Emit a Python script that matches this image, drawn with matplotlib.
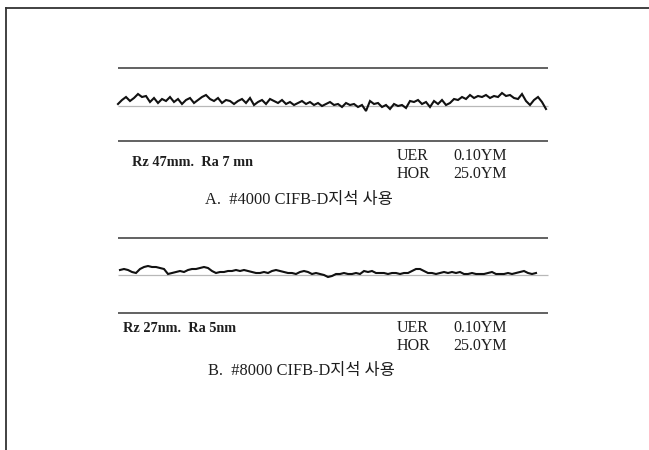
import numpy as np
import matplotlib
matplotlib.use("Agg")
import matplotlib.pyplot as plt
from matplotlib.lines import Line2D

# ---- data: surface profile heights (nm above mean line), equal sampling step ----
profile_a_nm = [6, 18, 27, 15, 24, 36, 27, 30, 12, 24,
                9, 21, 15, 27, 12, 21, 6, 18, 24, 9,
                18, 27, 33, 21, 15, 24, 9, 18, 15, 6,
                15, 21, 9, 24, 3, 12, 18, 6, 21, 15,
                9, 18, 6, 12, 3, 9, 15, 6, 12, 3,
                9, 0, 6, 12, 3, 6, -3, 9, 3, 6,
                -3, 3, -15, 15, 6, 9, -3, 3, -9, 6,
                0, 3, -6, 15, 12, 18, 6, 12, -3, 15,
                6, 18, 3, 9, 21, 18, 27, 21, 33, 24,
                30, 27, 33, 24, 30, 27, 39, 30, 33, 24,
                21, 36, 15, 3, 18, 27, 12, -9]

profile_b_nm = [15, 18, 15, 9, 6, 18, 24, 27, 24, 24,
                21, 18, 3, 6, 9, 12, 9, 15, 18, 18,
                21, 24, 21, 12, 6, 9, 9, 12, 12, 15,
                12, 15, 12, 9, 6, 6, 9, 6, 12, 15,
                12, 9, 6, 6, 3, 9, 12, 9, 3, 6,
                3, 0, -6, -3, 3, 3, 6, 3, 3, 6,
                3, 12, 9, 12, 6, 6, 6, 3, 6, 6,
                3, 6, 6, 12, 18, 18, 12, 6, 6, 3,
                6, 9, 6, 9, 6, 9, 3, 3, 6, 3,
                3, 3, 6, 9, 3, 3, 3, 6, 3, 6,
                9, 12, 6, 3, 6]

# reference (chart border) levels in nm for each trace
ref_a = (114, -105)
ref_b = (111, -114)

roughness_a = "Rz 47mm.  Ra 7 mn"
roughness_b = "Rz 27nm.  Ra 5nm"
caption_a = "A.  #4000 CIFB-D지석 사용"
caption_b = "B.  #8000 CIFB-D지석 사용"
scale_labels = ["UER", "HOR"]
scale_values = ["0.10YM", "25.0YM"]

W, H = 649, 450
fig = plt.figure(figsize=(W / 100, H / 100), dpi=100)
fig.patch.set_facecolor("white")

def fx(px):
    return px / W

def fy(py):
    return 1 - py / H

# outer frame (top and left edges)
fig.add_artist(Line2D([fx(6), fx(6)], [fy(8), fy(452)], color="#333333", lw=1.3))
fig.add_artist(Line2D([fx(6), fx(652)], [fy(8), fy(8)], color="#333333", lw=1.3))

def panel(y_top_px, y_bot_px, mean_px, x0_px, data, refs, ref_x):
    # axes spans pixels 110..556 horizontally; step 4 px per sample
    ax = fig.add_axes([fx(110), fy(y_bot_px), fx(556) - fx(110), fy(y_top_px) - fy(y_bot_px)])
    ax.set_xlim((110 - x0_px) / 4, (556 - x0_px) / 4)
    ax.set_ylim((mean_px - y_bot_px) * 3, (mean_px - y_top_px) * 3)
    ax.axis("off")
    xi = np.arange(len(data))
    # reference lines
    for r in refs:
        ax.hlines(r, ref_x[0], ref_x[1], color="#555555", lw=1.3, clip_on=False)
    ax.hlines(0, ref_x[0], ref_x[1], color="#b8b8b8", lw=0.9)
    ax.plot(xi, data, color="#111111", lw=1.5, solid_joinstyle="miter")
    return ax

panel(60, 150, 106, 118, profile_a_nm, ref_a, ((118 - 118) / 4, (548 - 118) / 4))
panel(230, 320, 275, 120, profile_b_nm, ref_b, ((118 - 120) / 4, (548 - 120) / 4))

serif = ["Liberation Serif", "Noto Sans CJK KR"]
tc = "#1e1e1e"

def txt(xp, yp, s, size, weight="normal"):
    fig.text(fx(xp), fy(yp), s, fontsize=size, family=serif, color=tc,
             ha="left", va="center", fontweight=weight)

# panel A texts
txt(132, 163, roughness_a, 10.3, "bold")
txt(397, 156.5, scale_labels[0], 11.5)
txt(453, 156.5, scale_values[0], 11.5)
txt(397, 173.5, scale_labels[1], 11.5)
txt(453, 173.5, scale_values[1], 11.5)
txt(205, 200, caption_a, 11.8)

# panel B texts
txt(123, 329, roughness_b, 10.3, "bold")
txt(397, 327.5, scale_labels[0], 11.5)
txt(453, 327.5, scale_values[0], 11.5)
txt(397, 345.5, scale_labels[1], 11.5)
txt(453, 345.5, scale_values[1], 11.5)
txt(208, 371.5, caption_b, 11.8)

fig.savefig("out.png", dpi=100, facecolor="white")
